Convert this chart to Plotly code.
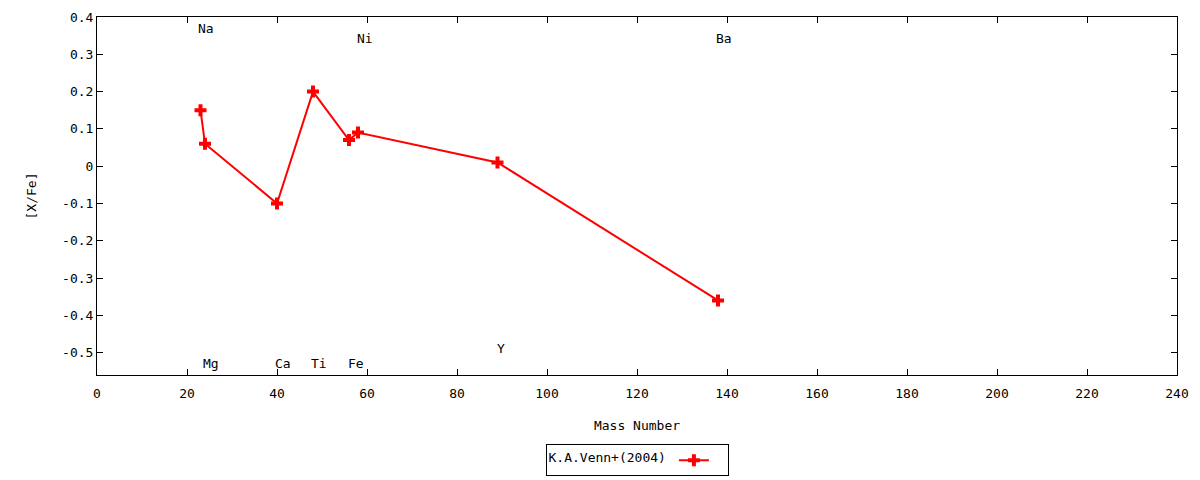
import plotly.graph_objects as go

# abundance data
mass_number = [23, 24, 40, 48, 56, 58, 89, 138]
x_fe = [0.15, 0.06, -0.10, 0.20, 0.07, 0.09, 0.01, -0.36]

# element labels
elements = ["Na", "Mg", "Ca", "Ti", "Fe", "Ni", "Y", "Ba"]
label_x = [22, 23, 39, 47, 55.3, 57.3, 88.5, 137.2]
label_y = [0.37, -0.53, -0.53, -0.53, -0.53, 0.343, -0.49, 0.343]

x_ticks = list(range(0, 241, 20))
y_ticks = [0.4, 0.3, 0.2, 0.1, 0, -0.1, -0.2, -0.3, -0.4, -0.5]
y_tick_text = ["0.4", "0.3", "0.2", "0.1", "0", "-0.1", "-0.2", "-0.3", "-0.4", "-0.5"]

FONT = "DejaVu Sans Mono"
FS = 13

fig = go.Figure()
fig.add_trace(go.Scatter(
    x=mass_number, y=x_fe,
    mode="lines+markers",
    name=" ",
    line=dict(color="red", width=2),
    marker=dict(symbol="cross", size=10, color="red"),
))

for name, lx, ly in zip(elements, label_x, label_y):
    fig.add_annotation(x=lx, y=ly, text=name, showarrow=False,
                       xanchor="left", yanchor="middle",
                       font=dict(family=FONT, size=FS, color="black"))

axis_style = dict(
    showline=True, linecolor="black", linewidth=1, mirror="allticks",
    ticks="inside", ticklen=6, tickcolor="black",
    showgrid=False, zeroline=False,
    tickfont=dict(family=FONT, size=FS, color="black"),
)

fig.update_xaxes(range=[0, 240], tickvals=x_ticks, ticklabelstandoff=6,
                 title=dict(text="Mass Number", standoff=21,
                            font=dict(family=FONT, size=FS, color="black")),
                 **axis_style)
fig.update_yaxes(range=[-0.56, 0.4], tickvals=y_ticks, ticktext=y_tick_text,
                 title=dict(text="[X/Fe]", standoff=22,
                            font=dict(family=FONT, size=FS, color="black")),
                 **axis_style)

# the page body adds an 8px offset, margins are set to compensate
fig.update_layout(
    width=1200, height=480,
    margin=dict(l=89, r=31, t=9, b=113, autoexpand=False),
    plot_bgcolor="white", paper_bgcolor="white",
    font=dict(family=FONT, size=FS, color="black"),
    showlegend=True,
    legend=dict(
        orientation="h", x=0.5, xanchor="center", y=-0.238, yanchor="middle",
        bordercolor="black", borderwidth=1, bgcolor="white",
        title=dict(text="K.A.Venn+(2004)", side="left",
                   font=dict(family=FONT, size=FS, color="black")),
        font=dict(family=FONT, size=FS, color="black"),
    ),
)

fig.write_html("out.html")
